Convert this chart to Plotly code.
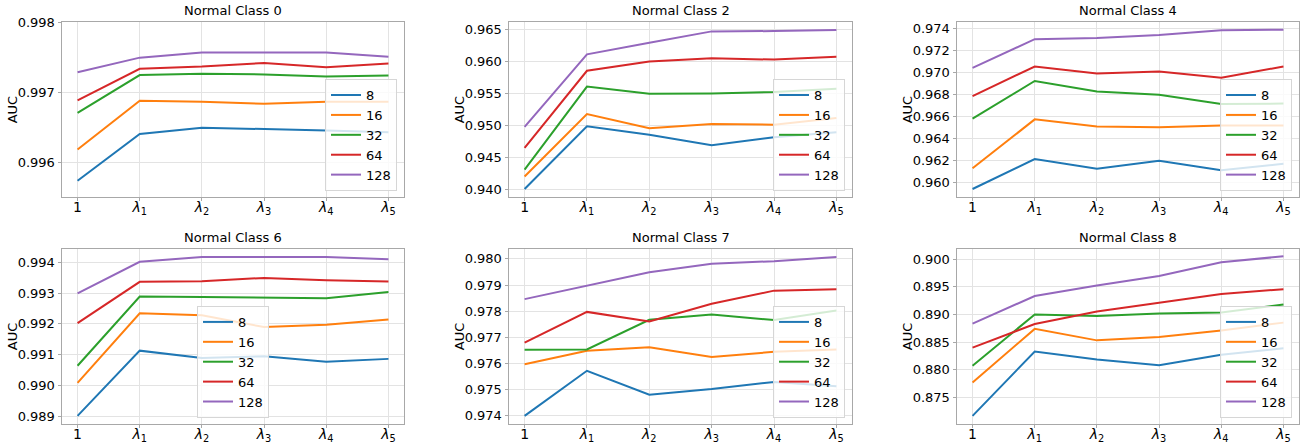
import plotly.graph_objects as go

# ---------------- data ----------------
X_LABELS = ["1", "<i>λ</i><sub>1</sub>", "<i>λ</i><sub>2</sub>", "<i>λ</i><sub>3</sub>",
            "<i>λ</i><sub>4</sub>", "<i>λ</i><sub>5</sub>"]
SERIES = ["8", "16", "32", "64", "128"]
TITLES = ["Normal Class 0", "Normal Class 2", "Normal Class 4",
          "Normal Class 6", "Normal Class 7", "Normal Class 8"]

AUC_CLASS0 = [
    [0.995742, 0.996408, 0.996498, 0.996484, 0.996460, 0.996432],
    [0.996188, 0.996883, 0.996869, 0.996840, 0.996870, 0.996870],
    [0.996709, 0.997249, 0.997268, 0.997258, 0.997230, 0.997244],
    [0.996887, 0.997338, 0.997370, 0.997423, 0.997362, 0.997413],
    [0.997291, 0.997498, 0.997573, 0.997577, 0.997573, 0.997512],
]
AUC_CLASS2 = [
    [0.94000, 0.94985, 0.94851, 0.94686, 0.94814, 0.94892],
    [0.94196, 0.95175, 0.94954, 0.95021, 0.95010, 0.95113],
    [0.94304, 0.95608, 0.95495, 0.95500, 0.95521, 0.95572],
    [0.94644, 0.95856, 0.96000, 0.96052, 0.96031, 0.96077],
    [0.94974, 0.96113, 0.96294, 0.96474, 0.96479, 0.96495],
]
AUC_CLASS4 = [
    [0.959373, 0.962090, 0.961224, 0.961940, 0.961075, 0.961672],
    [0.961254, 0.965701, 0.965045, 0.964985, 0.965134, 0.965134],
    [0.965761, 0.969194, 0.968239, 0.967940, 0.967104, 0.967134],
    [0.967821, 0.970507, 0.969880, 0.970060, 0.969493, 0.970507],
    [0.970388, 0.972985, 0.973104, 0.973373, 0.973791, 0.973851],
]
AUC_CLASS6 = [
    [0.989021, 0.991134, 0.990900, 0.990953, 0.990773, 0.990868],
    [0.990093, 0.992344, 0.992280, 0.991898, 0.991972, 0.992142],
    [0.990645, 0.992885, 0.992874, 0.992864, 0.992832, 0.993034],
    [0.992025, 0.993363, 0.993384, 0.993490, 0.993416, 0.993373],
    [0.992992, 0.994011, 0.994170, 0.994180, 0.994170, 0.994093],
]
AUC_CLASS7 = [
    [0.974000, 0.975725, 0.974813, 0.975025, 0.975300, 0.975138],
    [0.975975, 0.976488, 0.976625, 0.976250, 0.976450, 0.976538],
    [0.976525, 0.976538, 0.977675, 0.977875, 0.977663, 0.978025],
    [0.976800, 0.977975, 0.977613, 0.978288, 0.978788, 0.978838],
    [0.978463, 0.978988, 0.979488, 0.979813, 0.979913, 0.980075],
]
AUC_CLASS8 = [
    [0.871607, 0.883274, 0.881845, 0.880774, 0.882679, 0.883869],
    [0.877679, 0.887381, 0.885298, 0.885893, 0.887083, 0.888512],
    [0.880714, 0.890000, 0.889702, 0.890179, 0.890357, 0.891786],
    [0.883988, 0.888274, 0.890536, 0.892083, 0.893690, 0.894583],
    [0.888333, 0.893333, 0.895238, 0.896964, 0.899464, 0.900536],
]
ALL_AUC = [AUC_CLASS0, AUC_CLASS2, AUC_CLASS4, AUC_CLASS6, AUC_CLASS7, AUC_CLASS8]

# ---------------- layout / style ----------------
W, H = 1310, 447
COLORS = ["#1f77b4", "#ff7f0e", "#2ca02c", "#d62728", "#9467bd"]
Y_RANGES = [(0.99551, 0.99801), (0.93875, 0.96625), (0.95865, 0.97457),
            (0.988763, 0.994438), (0.973696, 0.980392), (0.870164, 0.901919)]
Y_DTICK = [0.001, 0.005, 0.002, 0.001, 0.001, 0.005]
COL_PX = [(62, 404), (509, 852), (957, 1299)]
ROW_PX = [(15, 193), (245.5, 423.5)]
# legend (right, bottom) in px
LEG_PX = [(397, 187), (845, 187), (1292, 187), (269, 417.5), (845, 417.5), (1292, 417.5)]

FONT = "DejaVu Sans"
AXIS_COLOR = "#a8a8a8"
GRID_COLOR = "#e3e3e3"

fig = go.Figure()
annotations = []
layout = dict(
    width=W, height=H,
    margin=dict(l=0, r=0, t=0, b=0),
    paper_bgcolor="white", plot_bgcolor="white",
    font=dict(family=FONT, size=13, color="black"),
)

for i, data in enumerate(ALL_AUC):
    r, c = divmod(i, 3)
    n = i + 1
    xa = "x" if n == 1 else f"x{n}"
    ya = "y" if n == 1 else f"y{n}"
    leg = "legend" if n == 1 else f"legend{n}"
    for s, name in enumerate(SERIES):
        fig.add_trace(go.Scatter(
            x=X_LABELS, y=data[s], mode="lines", name=name,
            line=dict(color=COLORS[s], width=2),
            xaxis=xa, yaxis=ya, legend=leg, showlegend=True,
        ))
    x0, x1 = COL_PX[c]
    y0, y1 = ROW_PX[r]
    xdom = [x0 / W, x1 / W]
    ydom = [1 - y1 / H, 1 - y0 / H]
    axn = "" if n == 1 else str(n)
    layout["xaxis" + axn] = dict(
        domain=xdom, anchor=ya, type="category", range=[-0.25, 5.25],
        showline=True, mirror=True, linecolor=AXIS_COLOR, linewidth=1,
        showgrid=True, gridcolor=GRID_COLOR, gridwidth=1,
        ticks="outside", ticklen=3.5, tickcolor=AXIS_COLOR,
        ticklabelstandoff=-6,
        tickfont=dict(family=FONT, size=14, color="black"),
        zeroline=False, fixedrange=True,
    )
    layout["yaxis" + axn] = dict(
        domain=ydom, anchor=xa, range=list(Y_RANGES[i]),
        dtick=Y_DTICK[i], tick0=0, tickformat=".3f",
        showline=True, mirror=True, linecolor=AXIS_COLOR, linewidth=1,
        showgrid=True, gridcolor=GRID_COLOR, gridwidth=1,
        ticks="outside", ticklen=3.5, tickcolor=AXIS_COLOR,
        tickfont=dict(family=FONT, size=13, color="black"),
        zeroline=False, fixedrange=True,
    )
    lx, ly = LEG_PX[i]
    layout[leg] = dict(
        x=lx / W, y=1 - ly / H, xanchor="right", yanchor="bottom",
        xref="paper", yref="paper",
        bgcolor="rgba(255,255,255,0.8)", bordercolor="#d6d6d6", borderwidth=1,
        font=dict(family=FONT, size=13, color="black"),
        tracegroupgap=0, itemwidth=30,
    )
    annotations.append(dict(
        text=TITLES[i], x=(xdom[0] + xdom[1]) / 2, y=ydom[1],
        xref="paper", yref="paper", xanchor="center", yanchor="bottom",
        yshift=2, showarrow=False, font=dict(family=FONT, size=13, color="black"),
    ))
    annotations.append(dict(
        text="AUC", x=xdom[0], y=(ydom[0] + ydom[1]) / 2,
        xref="paper", yref="paper", xanchor="center", yanchor="middle",
        xshift=-50, textangle=-90, showarrow=False,
        font=dict(family=FONT, size=13, color="black"),
    ))

layout["annotations"] = annotations
fig.update_layout(**layout)
fig.write_html(
    "out.html",
    config={"displayModeBar": False},
    post_script="document.body.style.margin='0';document.body.style.padding='0';",
)
